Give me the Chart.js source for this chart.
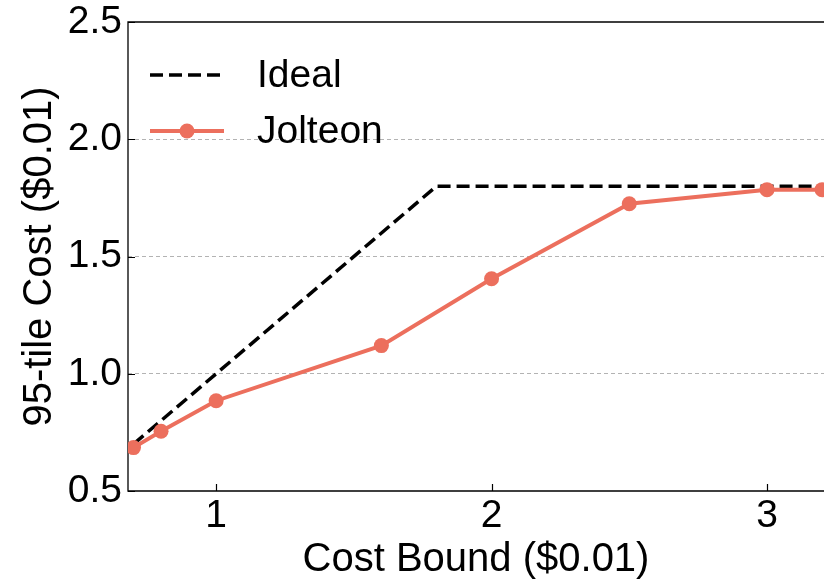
<!DOCTYPE html>
<html>
<head>
<meta charset="utf-8">
<script src="https://cdn.jsdelivr.net/npm/chart.js@4.4.1/dist/chart.umd.min.js"></script>
<style>
  html, body { margin: 0; padding: 0; background: #ffffff; }
  #wrap { width: 824px; height: 587px; }
</style>
</head>
<body>
<div id="wrap"><canvas id="c" width="824" height="587"></canvas></div>
<script>
// Cost bound (x) and measured 95th-percentile cost for Jolteon
const costBound = [0.7, 0.8, 1.0, 1.6, 2.0, 2.5, 3.0, 3.2];
const jolteonCost = [0.685, 0.755, 0.885, 1.12, 1.405, 1.725, 1.785, 1.785];

// Ideal curve: cost follows the bound up to the cap, then stays flat
const idealBound = [0.7, 1.8, 3.25];
const idealCost = [0.7, 1.8, 1.8];

// Axis tick values
const xTicks = [1, 2, 3];
const yTicks = [0.5, 1.0, 1.5, 2.0, 2.5];

const FONT = "'Liberation Sans', Arial, Helvetica, sans-serif";
const CORAL = '#ec6f5d';

const toPoints = (xs, ys) => xs.map((x, i) => ({ x: x, y: ys[i] }));

// Black frame (left, bottom, top) with inward tick marks
const framePlugin = {
  id: 'frame',
  beforeDatasetsDraw(chart) {
    const { ctx, chartArea: a, scales } = chart;
    ctx.save();
    ctx.strokeStyle = '#000';
    ctx.lineWidth = 1.3;
    ctx.beginPath();
    ctx.moveTo(a.right + 2, a.top);
    ctx.lineTo(a.left, a.top);
    ctx.lineTo(a.left, a.bottom);
    ctx.lineTo(a.right + 2, a.bottom);
    ctx.stroke();
    ctx.lineWidth = 1.2;
    ctx.beginPath();
    xTicks.forEach(v => {
      const px = Math.round(scales.x.getPixelForValue(v)) + 0.5;
      ctx.moveTo(px, a.bottom);
      ctx.lineTo(px, a.bottom - 7);
    });
    yTicks.forEach(v => {
      const py = Math.round(scales.y.getPixelForValue(v)) + 0.5;
      ctx.moveTo(a.left, py);
      ctx.lineTo(a.left + 7, py);
    });
    ctx.stroke();
    ctx.restore();
  }
};

// Legend drawn inside the plot area, using each dataset's own line style
const insideLegend = {
  id: 'insideLegend',
  afterDraw(chart) {
    const { ctx } = chart;
    const rows = [
      { ds: chart.data.datasets[1], y: 75 },
      { ds: chart.data.datasets[0], y: 131 }
    ];
    ctx.save();
    rows.forEach(r => {
      const ds = r.ds;
      ctx.strokeStyle = ds.borderColor;
      ctx.lineWidth = ds.borderWidth;
      ctx.setLineDash(ds.borderDash || []);
      ctx.beginPath();
      ctx.moveTo(150, r.y);
      ctx.lineTo(224, r.y);
      ctx.stroke();
      ctx.setLineDash([]);
      if (ds.pointRadius > 0) {
        ctx.fillStyle = ds.pointBackgroundColor;
        ctx.beginPath();
        ctx.arc(187, r.y, ds.pointRadius, 0, Math.PI * 2);
        ctx.fill();
      }
      ctx.fillStyle = '#000';
      ctx.font = '39px ' + FONT;
      ctx.textBaseline = 'middle';
      ctx.textAlign = 'left';
      ctx.fillText(ds.label, 257, r.y + 1);
    });
    ctx.restore();
  }
};

new Chart(document.getElementById('c'), {
  type: 'line',
  data: {
    datasets: [
      {
        label: 'Jolteon',
        data: toPoints(costBound, jolteonCost),
        borderColor: CORAL,
        backgroundColor: CORAL,
        borderWidth: 4,
        pointRadius: 7.5,
        pointHoverRadius: 7.5,
        pointBackgroundColor: CORAL,
        pointBorderWidth: 0,
        tension: 0,
        order: 1
      },
      {
        label: 'Ideal',
        data: toPoints(idealBound, idealCost),
        borderColor: '#000000',
        borderWidth: 3.5,
        borderDash: [13, 6],
        pointRadius: 0,
        tension: 0,
        order: 2
      }
    ]
  },
  options: {
    responsive: false,
    animation: false,
    devicePixelRatio: 1,
    layout: { autoPadding: false, padding: { top: 22, right: 0, bottom: 0, left: 0 } },
    plugins: { legend: { display: false }, tooltip: { enabled: false } },
    scales: {
      x: {
        type: 'linear',
        min: 0.68,
        max: 3.207,
        afterBuildTicks: s => { s.ticks = xTicks.map(v => ({ value: v })); },
        afterFit: s => { s.height = 96; s.paddingLeft = 0; s.paddingRight = 0; },
        grid: { display: false, drawTicks: false },
        border: { display: false },
        ticks: {
          color: '#000',
          font: { family: FONT, size: 39 },
          padding: 2,
          maxRotation: 0,
          callback: v => String(v)
        },
        title: {
          display: true,
          text: 'Cost Bound ($0.01)',
          color: '#000',
          font: { family: FONT, size: 40, lineHeight: 1.2 },
          padding: { top: 0, bottom: 3 }
        }
      },
      y: {
        type: 'linear',
        min: 0.5,
        max: 2.5,
        afterBuildTicks: s => { s.ticks = yTicks.map(v => ({ value: v })); },
        afterFit: s => { s.width = 128; s.paddingTop = 0; s.paddingBottom = 0; },
        grid: {
          drawTicks: false,
          lineWidth: 1,
          color: c => (c.tick && (c.tick.value === 0.5 || c.tick.value === 2.5)) ? 'rgba(0,0,0,0)' : '#b3b3b3'
        },
        border: { display: false, dash: [4, 3] },
        ticks: {
          color: '#000',
          font: { family: FONT, size: 39 },
          padding: 6,
          callback: v => Number(v).toFixed(1)
        },
        title: {
          display: true,
          text: '95-tile Cost ($0.01)',
          color: '#000',
          font: { family: FONT, size: 40, lineHeight: 1.2 },
          padding: { top: 16, bottom: 0 }
        }
      }
    }
  },
  plugins: [framePlugin, insideLegend]
});
</script>
</body>
</html>
